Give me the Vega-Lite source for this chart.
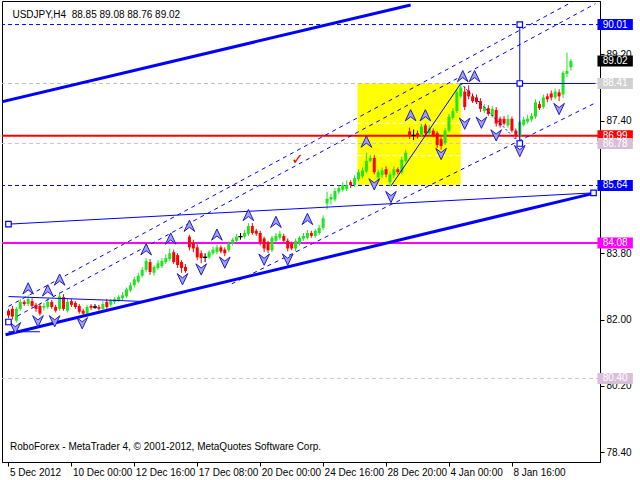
{
"$schema": "https://vega.github.io/schema/vega-lite/v6.json",
"width": 598,
"height": 461,
"autosize": {"type": "none"},
"padding": {"left": 2, "top": 1, "right": 40, "bottom": 18},
"background": "#ffffff",
"config": {"view": {"stroke": "#000000", "strokeWidth": 1}, "font": "Liberation Sans"},
"resolve": {"scale": {"color": "independent"}},
"datasets": {
"zone": [{"i": 88.75, "i2": 115, "p": 85.64, "p2": 88.41}],
"fibo": [{"p": 87.33}, {"p": 86.45}],
"levels": [{"p": 90.01, "k": "target"}, {"p": 85.64, "k": "target"}, {"p": 88.41, "k": "high"}, {"p": 86.78, "k": "low"}, {"p": 80.40, "k": "low"}],
"pivot": [{"p": 86.99}],
"support": [{"p": 84.08}],
"candles": [
{"i":0,"o":82.24,"h":82.29,"l":82.03,"c":82.11,"d":"down"},
{"i":1,"o":82.29,"h":82.37,"l":82.00,"c":82.08,"d":"down"},
{"i":2,"o":81.97,"h":82.34,"l":81.92,"c":82.29,"d":"up"},
{"i":3,"o":82.29,"h":82.56,"l":82.24,"c":82.48,"d":"up"},
{"i":4,"o":82.48,"h":82.53,"l":82.37,"c":82.42,"d":"down"},
{"i":5,"o":82.42,"h":82.66,"l":82.37,"c":82.56,"d":"up"},
{"i":6,"o":82.50,"h":82.58,"l":82.32,"c":82.37,"d":"down"},
{"i":7,"o":82.40,"h":82.45,"l":82.21,"c":82.29,"d":"down"},
{"i":8,"o":82.37,"h":82.42,"l":82.11,"c":82.16,"d":"down"},
{"i":9,"o":82.32,"h":82.45,"l":82.24,"c":82.37,"d":"up"},
{"i":10,"o":82.34,"h":82.56,"l":82.29,"c":82.48,"d":"up"},
{"i":11,"o":82.48,"h":82.53,"l":82.29,"c":82.34,"d":"down"},
{"i":12,"o":82.34,"h":82.40,"l":82.19,"c":82.24,"d":"down"},
{"i":13,"o":82.29,"h":82.74,"l":82.24,"c":82.63,"d":"up"},
{"i":14,"o":82.61,"h":82.69,"l":82.24,"c":82.29,"d":"down"},
{"i":15,"o":82.24,"h":82.56,"l":82.19,"c":82.48,"d":"up"},
{"i":16,"o":82.50,"h":82.56,"l":82.34,"c":82.40,"d":"down"},
{"i":17,"o":82.45,"h":82.50,"l":82.29,"c":82.34,"d":"down"},
{"i":18,"o":82.37,"h":82.42,"l":82.16,"c":82.21,"d":"down"},
{"i":19,"o":82.24,"h":82.29,"l":82.08,"c":82.16,"d":"down"},
{"i":20,"o":82.16,"h":82.40,"l":82.11,"c":82.34,"d":"up"},
{"i":21,"o":82.37,"h":82.42,"l":82.26,"c":82.32,"d":"down"},
{"i":22,"o":82.34,"h":82.42,"l":82.29,"c":82.34,"d":"doji"},
{"i":23,"o":82.34,"h":82.40,"l":82.24,"c":82.29,"d":"down"},
{"i":24,"o":82.29,"h":82.50,"l":82.24,"c":82.42,"d":"up"},
{"i":25,"o":82.48,"h":82.56,"l":82.29,"c":82.34,"d":"down"},
{"i":26,"o":82.40,"h":82.56,"l":82.34,"c":82.50,"d":"up"},
{"i":27,"o":82.48,"h":82.61,"l":82.42,"c":82.56,"d":"up"},
{"i":28,"o":82.53,"h":82.66,"l":82.48,"c":82.61,"d":"up"},
{"i":29,"o":82.58,"h":82.74,"l":82.53,"c":82.66,"d":"up"},
{"i":30,"o":82.63,"h":82.87,"l":82.58,"c":82.82,"d":"up"},
{"i":31,"o":82.79,"h":83.01,"l":82.74,"c":82.93,"d":"up"},
{"i":32,"o":82.93,"h":83.16,"l":82.87,"c":83.09,"d":"up"},
{"i":33,"o":83.03,"h":83.27,"l":82.98,"c":83.19,"d":"up"},
{"i":34,"o":83.19,"h":83.43,"l":83.14,"c":83.35,"d":"up"},
{"i":35,"o":83.35,"h":83.67,"l":83.29,"c":83.59,"d":"up"},
{"i":36,"o":83.56,"h":83.64,"l":83.21,"c":83.29,"d":"down"},
{"i":37,"o":83.27,"h":83.48,"l":83.19,"c":83.43,"d":"up"},
{"i":38,"o":83.40,"h":83.61,"l":83.35,"c":83.53,"d":"up"},
{"i":39,"o":83.45,"h":83.67,"l":83.40,"c":83.59,"d":"up"},
{"i":40,"o":83.56,"h":83.77,"l":83.51,"c":83.67,"d":"up"},
{"i":41,"o":83.64,"h":83.93,"l":83.59,"c":83.80,"d":"up"},
{"i":42,"o":83.83,"h":83.90,"l":83.51,"c":83.56,"d":"down"},
{"i":43,"o":83.75,"h":83.80,"l":83.40,"c":83.48,"d":"down"},
{"i":44,"o":83.56,"h":83.61,"l":83.27,"c":83.40,"d":"down"},
{"i":45,"o":83.43,"h":83.51,"l":83.27,"c":83.32,"d":"down"},
{"i":46,"o":84.25,"h":84.30,"l":83.88,"c":83.96,"d":"down"},
{"i":47,"o":84.09,"h":84.17,"l":83.83,"c":83.93,"d":"down"},
{"i":48,"o":83.96,"h":84.04,"l":83.61,"c":83.69,"d":"down"},
{"i":49,"o":83.80,"h":83.88,"l":83.53,"c":83.67,"d":"down"},
{"i":50,"o":83.69,"h":83.80,"l":83.56,"c":83.69,"d":"doji"},
{"i":51,"o":83.69,"h":83.88,"l":83.64,"c":83.83,"d":"up"},
{"i":52,"o":83.80,"h":83.98,"l":83.75,"c":83.90,"d":"up"},
{"i":53,"o":83.83,"h":84.04,"l":83.77,"c":83.96,"d":"up"},
{"i":54,"o":83.96,"h":84.01,"l":83.80,"c":83.85,"d":"down"},
{"i":55,"o":83.90,"h":83.96,"l":83.72,"c":83.80,"d":"down"},
{"i":56,"o":83.88,"h":84.12,"l":83.83,"c":84.06,"d":"up"},
{"i":57,"o":84.06,"h":84.22,"l":84.01,"c":84.17,"d":"up"},
{"i":58,"o":84.14,"h":84.33,"l":84.09,"c":84.25,"d":"up"},
{"i":59,"o":84.25,"h":84.35,"l":84.17,"c":84.25,"d":"doji"},
{"i":60,"o":84.25,"h":84.43,"l":84.20,"c":84.35,"d":"up"},
{"i":61,"o":84.33,"h":84.62,"l":84.27,"c":84.54,"d":"up"},
{"i":62,"o":84.54,"h":84.62,"l":84.30,"c":84.35,"d":"down"},
{"i":63,"o":84.41,"h":84.46,"l":84.27,"c":84.33,"d":"down"},
{"i":64,"o":84.35,"h":84.41,"l":84.01,"c":84.09,"d":"down"},
{"i":65,"o":84.20,"h":84.25,"l":83.83,"c":83.93,"d":"down"},
{"i":66,"o":84.09,"h":84.14,"l":83.80,"c":83.88,"d":"down"},
{"i":67,"o":83.88,"h":84.27,"l":83.83,"c":84.22,"d":"up"},
{"i":68,"o":84.14,"h":84.35,"l":84.09,"c":84.27,"d":"up"},
{"i":69,"o":84.22,"h":84.41,"l":84.17,"c":84.33,"d":"up"},
{"i":70,"o":84.27,"h":84.33,"l":84.09,"c":84.14,"d":"down"},
{"i":71,"o":84.14,"h":84.20,"l":83.85,"c":83.93,"d":"down"},
{"i":72,"o":84.06,"h":84.12,"l":83.88,"c":83.93,"d":"down"},
{"i":73,"o":83.93,"h":84.20,"l":83.85,"c":84.14,"d":"up"},
{"i":74,"o":84.06,"h":84.27,"l":84.01,"c":84.22,"d":"up"},
{"i":75,"o":84.20,"h":84.35,"l":84.14,"c":84.27,"d":"up"},
{"i":76,"o":84.22,"h":84.43,"l":84.17,"c":84.35,"d":"up"},
{"i":77,"o":84.35,"h":84.41,"l":84.22,"c":84.27,"d":"down"},
{"i":78,"o":84.27,"h":84.46,"l":84.22,"c":84.41,"d":"up"},
{"i":79,"o":84.35,"h":84.57,"l":84.30,"c":84.49,"d":"up"},
{"i":80,"o":84.49,"h":84.83,"l":84.43,"c":84.75,"d":"up"},
{"i":81,"o":85.15,"h":85.47,"l":84.99,"c":85.28,"d":"up"},
{"i":82,"o":85.26,"h":85.41,"l":85.12,"c":85.33,"d":"up"},
{"i":83,"o":85.26,"h":85.57,"l":85.20,"c":85.49,"d":"up"},
{"i":84,"o":85.47,"h":85.65,"l":85.41,"c":85.57,"d":"up"},
{"i":85,"o":85.52,"h":85.73,"l":85.47,"c":85.65,"d":"up"},
{"i":86,"o":85.55,"h":85.78,"l":85.49,"c":85.65,"d":"up"},
{"i":87,"o":85.73,"h":85.78,"l":85.57,"c":85.65,"d":"down"},
{"i":88,"o":85.65,"h":85.92,"l":85.60,"c":85.84,"d":"up"},
{"i":89,"o":85.81,"h":86.08,"l":85.76,"c":86.00,"d":"up"},
{"i":90,"o":85.89,"h":86.13,"l":85.84,"c":86.05,"d":"up"},
{"i":91,"o":86.02,"h":86.53,"l":85.97,"c":86.31,"d":"up"},
{"i":92,"o":86.31,"h":86.47,"l":86.26,"c":86.39,"d":"up"},
{"i":93,"o":86.39,"h":86.47,"l":85.94,"c":86.00,"d":"down"},
{"i":94,"o":85.86,"h":86.08,"l":85.78,"c":86.00,"d":"up"},
{"i":95,"o":85.92,"h":86.13,"l":85.84,"c":86.05,"d":"up"},
{"i":96,"o":86.08,"h":86.16,"l":85.86,"c":85.94,"d":"down"},
{"i":97,"o":85.73,"h":86.02,"l":85.62,"c":85.94,"d":"up"},
{"i":98,"o":85.92,"h":86.16,"l":85.84,"c":86.08,"d":"up"},
{"i":99,"o":86.08,"h":86.13,"l":85.94,"c":86.00,"d":"down"},
{"i":100,"o":86.00,"h":86.42,"l":85.94,"c":86.34,"d":"up"},
{"i":101,"o":86.31,"h":86.61,"l":86.26,"c":86.53,"d":"up"},
{"i":102,"o":87.11,"h":87.21,"l":86.90,"c":86.98,"d":"down"},
{"i":103,"o":87.00,"h":87.16,"l":86.87,"c":87.00,"d":"doji"},
{"i":104,"o":87.06,"h":87.13,"l":86.92,"c":86.98,"d":"down"},
{"i":105,"o":87.00,"h":87.32,"l":86.95,"c":87.24,"d":"up"},
{"i":106,"o":87.27,"h":87.32,"l":87.00,"c":87.06,"d":"down"},
{"i":107,"o":87.06,"h":87.27,"l":87.00,"c":87.19,"d":"up"},
{"i":108,"o":87.13,"h":87.19,"l":86.95,"c":87.00,"d":"down"},
{"i":109,"o":87.06,"h":87.11,"l":86.66,"c":86.74,"d":"down"},
{"i":110,"o":86.90,"h":86.95,"l":86.61,"c":86.71,"d":"down"},
{"i":111,"o":86.79,"h":87.19,"l":86.74,"c":87.13,"d":"up"},
{"i":112,"o":87.13,"h":87.58,"l":87.08,"c":87.51,"d":"up"},
{"i":113,"o":87.48,"h":87.74,"l":87.43,"c":87.66,"d":"up"},
{"i":114,"o":87.66,"h":88.25,"l":87.61,"c":88.17,"d":"up"},
{"i":115,"o":88.06,"h":88.41,"l":88.01,"c":88.30,"d":"up"},
{"i":116,"o":88.19,"h":88.33,"l":87.69,"c":87.77,"d":"down"},
{"i":117,"o":88.22,"h":88.36,"l":87.98,"c":88.06,"d":"down"},
{"i":118,"o":88.06,"h":88.14,"l":87.88,"c":87.93,"d":"down"},
{"i":119,"o":88.03,"h":88.11,"l":87.85,"c":87.90,"d":"down"},
{"i":120,"o":87.93,"h":88.01,"l":87.64,"c":87.72,"d":"down"},
{"i":121,"o":87.66,"h":87.85,"l":87.61,"c":87.77,"d":"up"},
{"i":122,"o":87.74,"h":87.82,"l":87.53,"c":87.58,"d":"down"},
{"i":123,"o":87.53,"h":87.80,"l":87.48,"c":87.72,"d":"up"},
{"i":124,"o":87.69,"h":87.77,"l":87.24,"c":87.32,"d":"down"},
{"i":125,"o":87.45,"h":87.51,"l":87.21,"c":87.27,"d":"down"},
{"i":126,"o":87.45,"h":87.53,"l":87.27,"c":87.32,"d":"down"},
{"i":127,"o":87.27,"h":87.56,"l":87.21,"c":87.45,"d":"up"},
{"i":128,"o":87.45,"h":87.51,"l":87.08,"c":87.13,"d":"down"},
{"i":129,"o":87.13,"h":87.19,"l":86.90,"c":86.98,"d":"down"},
{"i":130,"o":86.98,"h":87.43,"l":86.78,"c":87.37,"d":"up"},
{"i":131,"o":87.29,"h":87.51,"l":87.24,"c":87.43,"d":"up"},
{"i":132,"o":87.37,"h":87.56,"l":87.32,"c":87.45,"d":"up"},
{"i":133,"o":87.43,"h":87.61,"l":87.37,"c":87.53,"d":"up"},
{"i":134,"o":87.51,"h":87.98,"l":87.45,"c":87.90,"d":"up"},
{"i":135,"o":87.85,"h":87.93,"l":87.69,"c":87.74,"d":"down"},
{"i":136,"o":87.77,"h":88.11,"l":87.72,"c":88.03,"d":"up"},
{"i":137,"o":88.06,"h":88.14,"l":87.90,"c":87.98,"d":"down"},
{"i":138,"o":88.14,"h":88.22,"l":87.95,"c":88.03,"d":"down"},
{"i":139,"o":88.03,"h":88.27,"l":87.98,"c":88.19,"d":"up"},
{"i":140,"o":88.17,"h":88.25,"l":87.93,"c":88.06,"d":"down"},
{"i":141,"o":88.11,"h":88.75,"l":88.01,"c":88.70,"d":"up"},
{"i":142,"o":88.67,"h":89.25,"l":88.59,"c":88.75,"d":"up"},
{"i":143,"o":88.85,"h":89.08,"l":88.76,"c":89.02,"d":"up"}
],
"trend": [{"i": -2, "p": 87.906, "i2": 102.25, "p2": 90.541}, {"i": -0.75, "p": 81.588, "i2": 149.25, "p2": 85.44}],
"channel": [
{"i": 0, "p": 84.59, "i2": 148.75, "p2": 85.44},
{"i": 0, "p": 82.624, "i2": 34.25, "p2": 82.491},
{"i": 0, "p": 81.668, "i2": 8, "p2": 81.668},
{"i": 97.25, "p": 85.626, "i2": 115, "p2": 88.41},
{"i": 115, "p": 88.41, "i2": 149.25, "p2": 88.41},
{"i": 130, "p": 90.01, "i2": 130, "p2": 86.78}
],
"path": [{"i": 115, "p": 88.41, "i2": 130, "p2": 86.78}],
"rays": [
{"i": 0, "p": 82.358, "i2": 143.25, "p2": 90.621},
{"i": 2.25, "p": 82.093, "i2": 149.25, "p2": 90.576},
{"i": 56.75, "p": 82.969, "i2": 149.25, "p2": 87.884}
],
"fractalUp": [
{"i": 5, "p": 82.837}, {"i": 10, "p": 82.784}, {"i": 13, "p": 83.076}, {"i": 35, "p": 83.899},
{"i": 41.25, "p": 84.191}, {"i": 46, "p": 84.537}, {"i": 53, "p": 84.298}, {"i": 61, "p": 84.829},
{"i": 68, "p": 84.643}, {"i": 76, "p": 84.723}, {"i": 91, "p": 86.822}, {"i": 102.25, "p": 87.539},
{"i": 106, "p": 87.539}, {"i": 115.5, "p": 88.602}, {"i": 118.5, "p": 88.602}
],
"fractalDown": [
{"i": 1.75, "p": 81.774}, {"i": 7.5, "p": 81.96}, {"i": 11.75, "p": 81.96}, {"i": 18.75, "p": 81.907},
{"i": 44.25, "p": 83.102}, {"i": 49, "p": 83.368}, {"i": 55, "p": 83.554}, {"i": 65, "p": 83.634},
{"i": 71, "p": 83.634}, {"i": 93, "p": 85.679}, {"i": 97.25, "p": 85.334}, {"i": 110, "p": 86.503},
{"i": 116, "p": 87.326}, {"i": 120.25, "p": 87.353}, {"i": 124, "p": 87.008}, {"i": 130, "p": 86.583},
{"i": 140, "p": 87.725}
],
"anchors": [
{"i": 130, "p": 90.01}, {"i": 130, "p": 88.41}, {"i": 130, "p": 86.78},
{"i": 0, "p": 84.59}, {"i": 148.75, "p": 85.44}, {"i": 0, "p": 81.933}
],
"checks": [{"i": 73.5, "p": 86.37}],
"tags": [
{"p": 90.01, "t": "90.01", "k": "target"},
{"p": 89.02, "t": "89.02", "k": "bid"},
{"p": 88.41, "t": "88.41", "k": "high"},
{"p": 86.99, "t": "86.99", "k": "pivot"},
{"p": 86.78, "t": "86.78", "k": "low"},
{"p": 85.64, "t": "85.64", "k": "target"},
{"p": 84.08, "t": "84.08", "k": "support"},
{"p": 80.40, "t": "80.40", "k": "low"}
]
},
"layer": [
{
"data": {"name": "zone"},
"mark": {"type": "rect", "color": "#ffff00"},
"encoding": {
"x": {"field": "i", "type": "quantitative", "title": null,
"scale": {"domain": [-0.375, 149.125], "nice": false, "zero": false},
"axis": {"title": null, "orient": "bottom", "values": [0, 16, 32, 48, 64, 80, 96, 112, 128],
"labelExpr": "['5 Dec 2012','10 Dec 00:00','12 Dec 16:00','17 Dec 08:00','20 Dec 00:00','24 Dec 16:00','28 Dec 20:00','4 Jan 00:00','8 Jan 16:00'][round(datum.value/16)]",
"labelAlign": "left", "labelOffset": 1, "labelPadding": 1, "tickSize": 4, "labelFlush": false, "labelOverlap": false,
"grid": false, "labelFont": "Liberation Sans", "labelFontSize": 10, "labelColor": "#000000", "domainColor": "#000000", "tickColor": "#000000"}},
"x2": {"field": "i2"},
"y": {"field": "p", "type": "quantitative", "title": null,
"scale": {"domain": [78.267, 90.514], "nice": false, "zero": false},
"axis": {"title": null, "orient": "right", "values": [78.4, 79.3, 80.2, 81.1, 82.0, 82.9, 83.8, 84.7, 85.6, 86.5, 87.4, 88.3, 89.2, 90.1],
"format": ".2f", "tickSize": 4, "labelPadding": 2, "labelOverlap": false, "labelFlush": false, "grid": false,
"labelFont": "Liberation Sans", "labelFontSize": 10, "labelColor": "#000000", "domainColor": "#000000", "tickColor": "#000000"}},
"y2": {"field": "p2"}
}
},
{
"data": {"name": "fibo"},
"mark": {"type": "rule", "color": "#ffffff", "strokeWidth": 1, "strokeDash": [4, 3]},
"encoding": {"x": {"datum": 88.75}, "x2": {"datum": 115},
"y": {"field": "p", "type": "quantitative", "title": null, "scale": {"domain": [78.267, 90.514], "nice": false, "zero": false}}}
},
{
"data": {"name": "levels"},
"mark": {"type": "rule", "strokeWidth": 1, "strokeDash": [4, 3]},
"encoding": {
"y": {"field": "p", "type": "quantitative", "title": null, "scale": {"domain": [78.267, 90.514], "nice": false, "zero": false}},
"color": {"field": "k", "type": "nominal", "legend": null, "scale": {"domain": ["target", "high", "low"], "range": ["#0000ff", "#c0c0c0", "#d8bfd8"]}}
}
},
{
"data": {"name": "pivot"},
"mark": {"type": "rule", "color": "#ff0000", "strokeWidth": 2},
"encoding": {"y": {"field": "p", "type": "quantitative", "title": null, "scale": {"domain": [78.267, 90.514], "nice": false, "zero": false}}}
},
{
"data": {"name": "support"},
"mark": {"type": "rule", "color": "#ff00ff", "strokeWidth": 2},
"encoding": {"y": {"field": "p", "type": "quantitative", "title": null, "scale": {"domain": [78.267, 90.514], "nice": false, "zero": false}}}
},
{
"data": {"name": "candles"},
"mark": {"type": "rule", "strokeWidth": 1},
"encoding": {
"x": {"field": "i", "type": "quantitative", "title": null, "scale": {"domain": [-0.375, 149.125], "nice": false, "zero": false}},
"y": {"field": "l", "type": "quantitative", "title": null, "scale": {"domain": [78.267, 90.514], "nice": false, "zero": false}},
"y2": {"field": "h"},
"color": {"field": "d", "type": "nominal", "legend": null, "scale": {"domain": ["up", "down", "doji"], "range": ["#1ee61e", "#ff0000", "#000000"]}}
}
},
{
"data": {"name": "candles"},
"mark": {"type": "bar", "size": 3, "orient": "vertical"},
"encoding": {
"x": {"field": "i", "type": "quantitative", "title": null, "scale": {"domain": [-0.375, 149.125], "nice": false, "zero": false}},
"y": {"field": "o", "type": "quantitative", "title": null, "scale": {"domain": [78.267, 90.514], "nice": false, "zero": false}},
"y2": {"field": "c"},
"color": {"field": "d", "type": "nominal", "legend": null, "scale": {"domain": ["up", "down", "doji"], "range": ["#1ee61e", "#ff0000", "#000000"]}}
}
},
{
"data": {"name": "candles"},
"transform": [{"filter": "datum.d == 'doji'"}],
"mark": {"type": "bar", "size": 4, "orient": "vertical", "fill": "#000000", "stroke": "#000000", "strokeWidth": 1},
"encoding": {
"x": {"field": "i", "type": "quantitative", "title": null, "scale": {"domain": [-0.375, 149.125], "nice": false, "zero": false}},
"y": {"field": "o", "type": "quantitative", "title": null, "scale": {"domain": [78.267, 90.514], "nice": false, "zero": false}},
"y2": {"field": "c"}
}
},
{
"data": {"name": "trend"},
"mark": {"type": "rule", "color": "#0000ff", "strokeWidth": 3, "clip": true},
"encoding": {
"x": {"field": "i", "type": "quantitative", "title": null, "scale": {"domain": [-0.375, 149.125], "nice": false, "zero": false}},
"x2": {"field": "i2"},
"y": {"field": "p", "type": "quantitative", "title": null, "scale": {"domain": [78.267, 90.514], "nice": false, "zero": false}},
"y2": {"field": "p2"}
}
},
{
"data": {"name": "channel"},
"mark": {"type": "rule", "color": "#0000ff", "strokeWidth": 1, "clip": true},
"encoding": {
"x": {"field": "i", "type": "quantitative", "title": null, "scale": {"domain": [-0.375, 149.125], "nice": false, "zero": false}},
"x2": {"field": "i2"},
"y": {"field": "p", "type": "quantitative", "title": null, "scale": {"domain": [78.267, 90.514], "nice": false, "zero": false}},
"y2": {"field": "p2"}
}
},
{
"data": {"name": "path"},
"mark": {"type": "rule", "color": "#0000ff", "strokeWidth": 1, "strokeDash": [2, 2], "clip": true},
"encoding": {
"x": {"field": "i", "type": "quantitative", "title": null, "scale": {"domain": [-0.375, 149.125], "nice": false, "zero": false}},
"x2": {"field": "i2"},
"y": {"field": "p", "type": "quantitative", "title": null, "scale": {"domain": [78.267, 90.514], "nice": false, "zero": false}},
"y2": {"field": "p2"}
}
},
{
"data": {"name": "rays"},
"mark": {"type": "rule", "color": "#0000ff", "strokeWidth": 1, "strokeDash": [4, 4], "clip": true},
"encoding": {
"x": {"field": "i", "type": "quantitative", "title": null, "scale": {"domain": [-0.375, 149.125], "nice": false, "zero": false}},
"x2": {"field": "i2"},
"y": {"field": "p", "type": "quantitative", "title": null, "scale": {"domain": [78.267, 90.514], "nice": false, "zero": false}},
"y2": {"field": "p2"}
}
},
{
"data": {"name": "fractalUp"},
"mark": {"type": "point", "shape": "M0,-1L0.9,0.9L0,0.2L-0.9,0.9Z", "size": 140, "filled": true, "fill": "#a0a0f6", "stroke": "#1c1cc4", "strokeWidth": 1, "opacity": 1},
"encoding": {
"x": {"field": "i", "type": "quantitative", "title": null, "scale": {"domain": [-0.375, 149.125], "nice": false, "zero": false}},
"y": {"field": "p", "type": "quantitative", "title": null, "scale": {"domain": [78.267, 90.514], "nice": false, "zero": false}}
}
},
{
"data": {"name": "fractalDown"},
"mark": {"type": "point", "shape": "M0,1L0.9,-0.9L0,-0.2L-0.9,-0.9Z", "size": 140, "filled": true, "fill": "#a0a0f6", "stroke": "#1c1cc4", "strokeWidth": 1, "opacity": 1},
"encoding": {
"x": {"field": "i", "type": "quantitative", "title": null, "scale": {"domain": [-0.375, 149.125], "nice": false, "zero": false}},
"y": {"field": "p", "type": "quantitative", "title": null, "scale": {"domain": [78.267, 90.514], "nice": false, "zero": false}}
}
},
{
"data": {"name": "anchors"},
"mark": {"type": "point", "shape": "square", "size": 30, "filled": true, "fill": "#ffffff", "stroke": "#0000ff", "strokeWidth": 1.2, "opacity": 1},
"encoding": {
"x": {"field": "i", "type": "quantitative", "title": null, "scale": {"domain": [-0.375, 149.125], "nice": false, "zero": false}},
"y": {"field": "p", "type": "quantitative", "title": null, "scale": {"domain": [78.267, 90.514], "nice": false, "zero": false}}
}
},
{
"data": {"name": "checks"},
"mark": {"type": "text", "text": "✓", "font": "DejaVu Sans", "fontSize": 15, "fontWeight": "bold", "color": "#e00000", "align": "center", "baseline": "middle"},
"encoding": {
"x": {"field": "i", "type": "quantitative", "title": null, "scale": {"domain": [-0.375, 149.125], "nice": false, "zero": false}},
"y": {"field": "p", "type": "quantitative", "title": null, "scale": {"domain": [78.267, 90.514], "nice": false, "zero": false}}
}
},
{
"data": {"name": "tags"},
"mark": {"type": "bar", "orient": "horizontal", "size": 11},
"encoding": {
"x": {"datum": 149.75}, "x2": {"datum": 158.75},
"y": {"field": "p", "type": "quantitative", "title": null, "scale": {"domain": [78.267, 90.514], "nice": false, "zero": false}},
"color": {"field": "k", "type": "nominal", "legend": null, "scale": {"domain": ["target", "bid", "high", "pivot", "low", "support"], "range": ["#0000ff", "#000000", "#d0d0d0", "#ff0000", "#d8bfd8", "#ff00ff"]}}
}
},
{
"data": {"name": "tags"},
"mark": {"type": "text", "color": "#ffffff", "font": "Liberation Sans", "fontSize": 10, "align": "center", "baseline": "middle"},
"encoding": {
"x": {"datum": 154.25},
"y": {"field": "p", "type": "quantitative", "title": null, "scale": {"domain": [78.267, 90.514], "nice": false, "zero": false}},
"text": {"field": "t"}
}
},
{
"data": {"values": [{"t": "USDJPY,H4\u00a0 88.85 89.08 88.76 89.02"}]},
"mark": {"type": "text", "color": "#000000", "font": "Liberation Sans", "fontSize": 10, "align": "left", "baseline": "middle"},
"encoding": {"x": {"datum": 1.0}, "y": {"datum": 90.275}, "text": {"field": "t"}}
},
{
"data": {"values": [{"t": "RoboForex - MetaTrader 4, © 2001-2012, MetaQuotes Software Corp."}]},
"mark": {"type": "text", "color": "#000000", "font": "Liberation Sans", "fontSize": 10, "align": "left", "baseline": "middle"},
"encoding": {"x": {"datum": 0.4}, "y": {"datum": 78.533}, "text": {"field": "t"}}
}
]
}
